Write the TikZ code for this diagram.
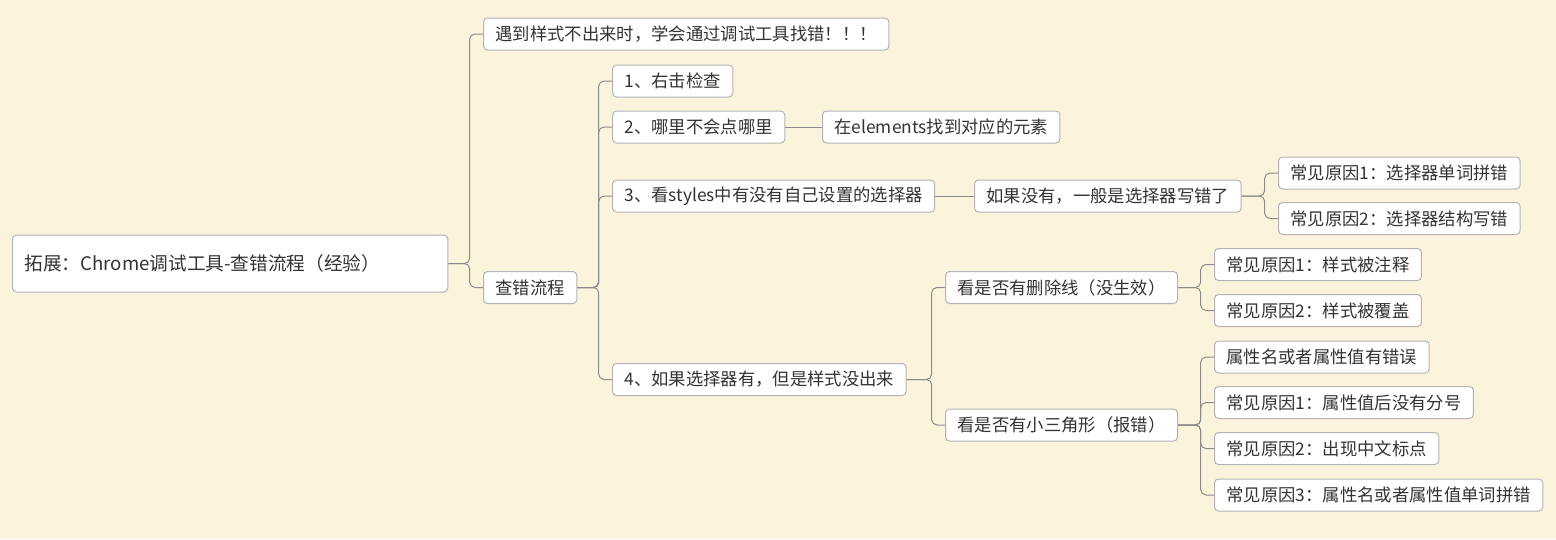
\documentclass[tikz,border=0pt]{standalone}
\usepackage{fontspec}
\setmainfont{Noto Sans CJK SC}
\definecolor{bgcream}{RGB}{251,243,220}
\definecolor{boxline}{RGB}{180,180,180}
\definecolor{linkgray}{RGB}{140,140,140}
\definecolor{txtgray}{RGB}{51,51,51}
\tikzset{
	topic/.style={draw=boxline, fill=white, rounded corners=3pt, line width=0.75pt,
		anchor=west, minimum height=24pt, inner xsep=9pt, inner ysep=0pt,
		text=txtgray, font=\fontsize{13}{15}\selectfont},
	roottopic/.style={topic, minimum height=42.75pt, text width=308.5pt, align=left,
		font=\fontsize{14}{16}\selectfont},
	link/.style={draw=linkgray, line width=0.75pt, rounded corners=4pt}
}
\begin{document}
\begin{tikzpicture}[x=0.75pt,y=-0.75pt]
	\fill [bgcream] (0,0) rectangle (1556,539);
	\useasboundingbox (0,0) rectangle (1556,539);
	% topics
	\node [roottopic] (root) at (12,263.5) {拓展：Chrome调试工具-查错流程（经验）};
	\node [topic] (tip) at (483,34) {遇到样式不出来时，学会通过调试工具找错！！！};
	\node [topic] (flow) at (483,287.5) {查错流程};
	\node [topic] (s1) at (612,81) {1、右击检查};
	\node [topic] (s2) at (612,127) {2、哪里不会点哪里};
	\node [topic] (s2a) at (822,127) {在elements找到对应的元素};
	\node [topic] (s3) at (612,196) {3、看styles中有没有自己设置的选择器};
	\node [topic] (s3a) at (974,196) {如果没有，一般是选择器写错了};
	\node [topic] (s3b) at (1278,173) {常见原因1：选择器单词拼错};
	\node [topic] (s3c) at (1278,218.5) {常见原因2：选择器结构写错};
	\node [topic] (s4) at (612,379.5) {4、如果选择器有，但是样式没出来};
	\node [topic] (del) at (945,287.5) {看是否有删除线（没生效）};
	\node [topic] (del1) at (1214,264.5) {常见原因1：样式被注释};
	\node [topic] (del2) at (1214,310.5) {常见原因2：样式被覆盖};
	\node [topic] (tri) at (945,425) {看是否有小三角形（报错）};
	\node [topic] (tri1) at (1214,357) {属性名或者属性值有错误};
	\node [topic] (tri2) at (1214,402.5) {常见原因1：属性值后没有分号};
	\node [topic] (tri3) at (1214,448.5) {常见原因2：出现中文标点};
	\node [topic] (tri4) at (1214,495) {常见原因3：属性名或者属性值单词拼错};
	% branches
	\draw [link] (root.east) -| ([xshift=-10pt]tip.west) -- (tip.west);
	\draw [link] (root.east) -| ([xshift=-10pt]flow.west) -- (flow.west);
	\draw [link] (flow.east) -| ([xshift=-10pt]s1.west) -- (s1.west);
	\draw [link] (flow.east) -| ([xshift=-10pt]s2.west) -- (s2.west);
	\draw [link] (flow.east) -| ([xshift=-10pt]s3.west) -- (s3.west);
	\draw [link] (flow.east) -| ([xshift=-10pt]s4.west) -- (s4.west);
	\draw [link] (s2.east) -- (s2a.west);
	\draw [link] (s3.east) -- (s3a.west);
	\draw [link] (s3a.east) -| ([xshift=-10pt]s3b.west) -- (s3b.west);
	\draw [link] (s3a.east) -| ([xshift=-10pt]s3c.west) -- (s3c.west);
	\draw [link] (s4.east) -| ([xshift=-10pt]del.west) -- (del.west);
	\draw [link] (s4.east) -| ([xshift=-10pt]tri.west) -- (tri.west);
	\draw [link] (del.east) -| ([xshift=-10pt]del1.west) -- (del1.west);
	\draw [link] (del.east) -| ([xshift=-10pt]del2.west) -- (del2.west);
	\draw [link] (tri.east) -| ([xshift=-10pt]tri1.west) -- (tri1.west);
	\draw [link] (tri.east) -| ([xshift=-10pt]tri2.west) -- (tri2.west);
	\draw [link] (tri.east) -| ([xshift=-10pt]tri3.west) -- (tri3.west);
	\draw [link] (tri.east) -| ([xshift=-10pt]tri4.west) -- (tri4.west);
\end{tikzpicture}
\end{document}
